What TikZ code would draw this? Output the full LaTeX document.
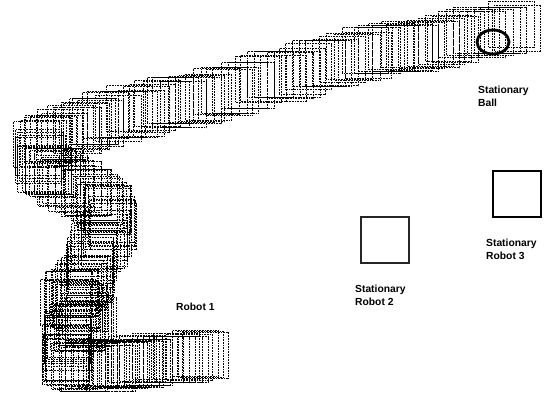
\documentclass[tikz,border=0pt]{standalone}
\usepackage{fontspec}
\setmainfont{Liberation Sans}
\usetikzlibrary{calc}

\begin{document}
\begin{tikzpicture}[x=1pt,y=-1pt,
trail/.style={draw=black,line width=0.85pt,dash pattern=on 1pt off 0.6pt},
fixedbot/.style={draw=black,line width=2pt},
ball/.style={draw=black,line width=2.8pt},
lab/.style={font=\fontsize{10.3}{13}\selectfont\bfseries,align=left,anchor=west,inner sep=0pt}]
\useasboundingbox (0,0) rectangle (549,398);
\pgfmathsetseed{11}
% trace of robot 1, one box per step
\draw[trail] (205,355) ++(-23,-23) rectangle ++(46,46);
\foreach \xa/\ya/\xb/\yb/\n in {205/355/150/360/11, 150/360/90/368/16, 90/368/65/360/8,
  65/360/68/335/8, 68/335/92/318/9, 92/318/65/300/9, 65/300/88/280/9, 88/280/92/255/7,
  92/255/113/228/9, 113/228/105/205/7, 105/205/70/185/11, 70/185/42/165/10, 42/165/38/148/5,
  38/148/62/136/6, 62/136/100/120/9, 100/120/140/110/7, 140/110/177/103/6, 177/103/223/92/7,
  223/92/277/76/8, 277/76/323/66/7, 323/66/377/50/8, 377/50/423/45/7, 423/45/470/34/7,
  470/34/517/27/7}
  \foreach \k in {1,...,\n}
    \draw[trail] ($(\xa,\ya)!{\k/\n}!(\xb,\yb)+(2*rand,4*rand)$) ++(-23,-23) rectangle ++(46,46);
% stationary objects
\draw[ball] (493,42) ellipse [x radius=16,y radius=12];
\draw[fixedbot,draw=black!85] (361,217) rectangle (409,263);
\draw[fixedbot] (493,171) rectangle (541,217);
\node[lab] (ballab) at (478,96.5) {Stationary\\Ball};
\node[lab] (r2lab) at (355,295.5) {Stationary\\Robot 2};
\node[lab] (r3lab) at (486,249) {Stationary\\Robot 3};
\node[lab] (r1lab) at (176,307) {Robot 1};
\end{tikzpicture}
\end{document}
